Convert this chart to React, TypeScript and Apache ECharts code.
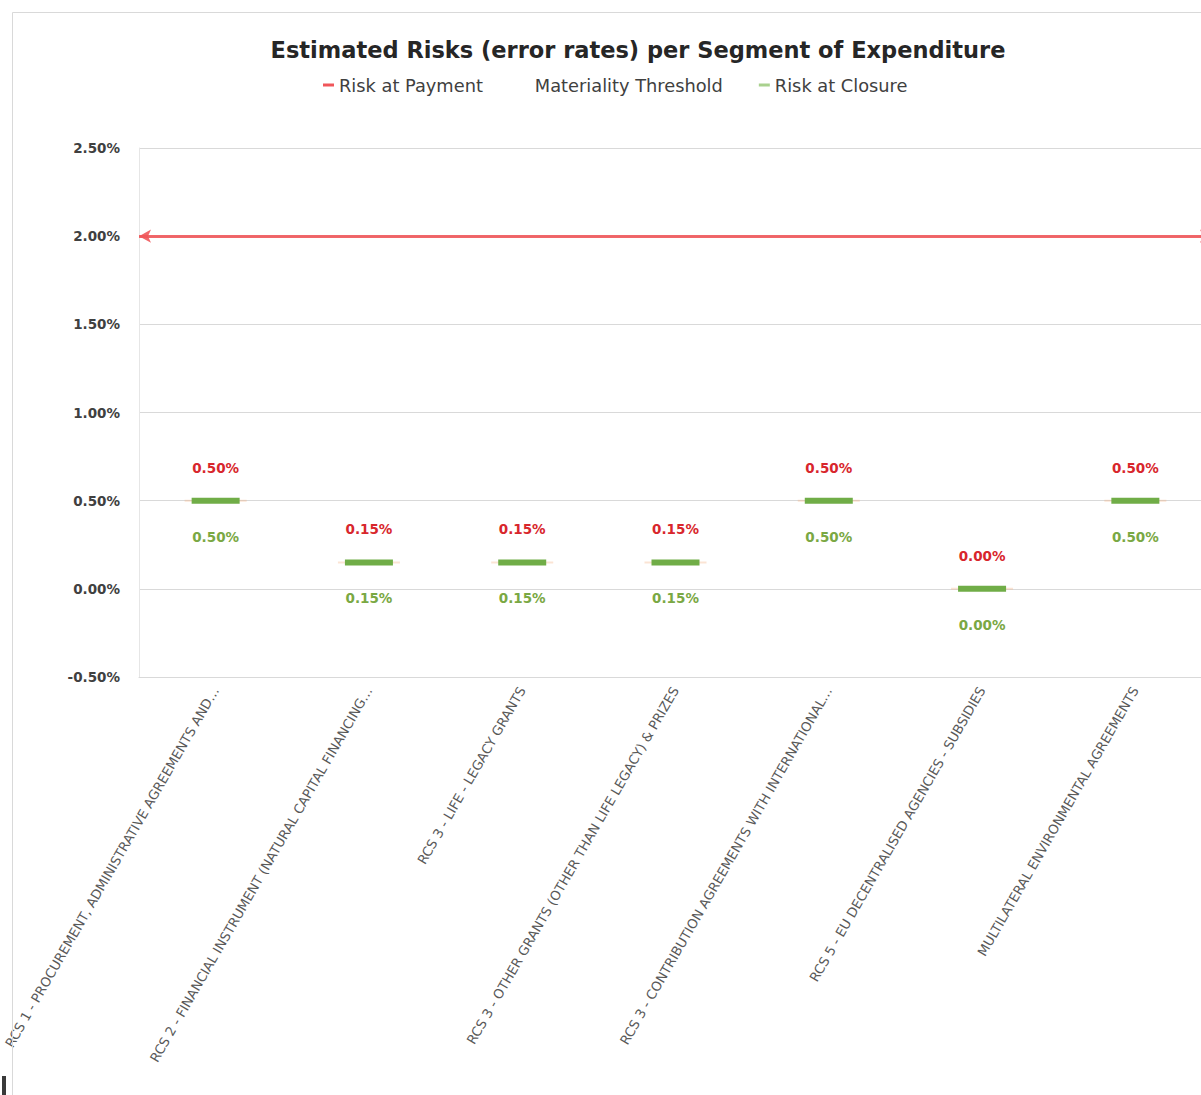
import React, { useEffect, useRef } from "react";
import * as echarts from "echarts";

const categories = [
  "RCS 1 - PROCUREMENT, ADMINISTRATIVE AGREEMENTS AND…",
  "RCS 2 - FINANCIAL INSTRUMENT (NATURAL CAPITAL FINANCING…",
  "RCS 3 - LIFE - LEGACY GRANTS",
  "RCS 3 - OTHER GRANTS (OTHER THAN LIFE LEGACY) & PRIZES",
  "RCS 3 - CONTRIBUTION AGREEMENTS WITH INTERNATIONAL…",
  "RCS 5 - EU DECENTRALISED AGENCIES - SUBSIDIES",
  "MULTILATERAL ENVIRONMENTAL AGREEMENTS",
];
const riskAtPayment = [0.5, 0.15, 0.15, 0.15, 0.5, 0.0, 0.5];
const riskAtClosure = [0.5, 0.15, 0.15, 0.15, 0.5, 0.0, 0.5];
const materialityThreshold = 2.0;
const yTicks = { min: -0.5, max: 2.5, interval: 0.5 };

const FONT = "'DejaVu Sans', 'Open Sans', sans-serif";
const RED = "#d8262c";
const GREEN_LABEL = "#7aa843";
const GREEN = "#70ad47";

export default function App() {
  const ref = useRef<HTMLDivElement>(null);
  useEffect(() => {
    if (!ref.current) return;
    const chart = echarts.init(ref.current, null, { renderer: "svg" });
    const pct = (v: number) => v.toFixed(2) + "%";
    chart.setOption({
      animation: false,
      backgroundColor: "#ffffff",
      title: {
        text: "Estimated Risks (error rates) per Segment of Expenditure",
        left: 633,
        textAlign: "center",
        top: 33,
        textStyle: { fontFamily: FONT, fontSize: 22.5, fontWeight: "bold", color: "#262626" },
      },
      legend: {
        top: 71,
        left: 318,
        itemGap: 36,
        itemWidth: 11,
        itemHeight: 3,
        textStyle: { fontFamily: FONT, fontSize: 17.8, color: "#404040" },
        data: [
          { name: "Risk at Payment", icon: "rect", itemStyle: { color: "#f0565a" } },
          { name: "Materiality Threshold", icon: "rect", itemStyle: { opacity: 0 } },
          { name: "Risk at Closure", icon: "rect", itemStyle: { color: "#a9d18e" } },
        ],
      },
      grid: { left: 139, top: 148, bottom: 418, right: 0, containLabel: false, outerBoundsMode: "none" },
      xAxis: {
        type: "category",
        data: categories,
        boundaryGap: true,
        axisLine: { show: true, onZero: false, lineStyle: { color: "#d9d9d9" } },
        axisTick: { show: false },
        axisLabel: {
          interval: 0,
          rotate: 60,
          margin: 11,
          fontFamily: FONT,
          fontSize: 13.2,
          color: "#595959",
        },
      },
      yAxis: {
        type: "value",
        min: yTicks.min,
        max: yTicks.max,
        interval: yTicks.interval,
        axisLine: { show: true, lineStyle: { color: "#e6e6e6" } },
        axisTick: { show: false },
        splitLine: { lineStyle: { color: "#d9d9d9", width: 1 } },
        axisLabel: {
          formatter: pct,
          margin: 19,
          fontFamily: FONT,
          fontSize: 13.5,
          fontWeight: "bold",
          color: "#404040",
        },
      },
      series: [
        {
          name: "Risk at Payment",
          type: "line",
          data: riskAtPayment,
          color: "#f0565a",
          lineStyle: { opacity: 0 },
          symbol: "rect",
          symbolSize: [62, 2],
          itemStyle: { color: "rgba(244,177,131,0.35)" },
          label: {
            show: true,
            position: "top",
            distance: 25,
            formatter: (p: any) => pct(p.value),
            fontFamily: FONT,
            fontSize: 13.5,
            fontWeight: "bold",
            color: RED,
          },
          z: 2,
        },
        {
          name: "Materiality Threshold",
          type: "line",
          data: [],
          color: "#f0565a",
          markLine: {
            silent: true,
            symbol: ["arrow", "arrow"],
            symbolSize: [10, 12],
            label: { show: false },
            lineStyle: { color: "#f0565a", width: 3, type: "solid", opacity: 0.9 },
            data: [{ yAxis: materialityThreshold }],
          },
        },
        {
          name: "Risk at Closure",
          type: "line",
          data: riskAtClosure,
          color: GREEN,
          lineStyle: { opacity: 0 },
          symbol: "rect",
          symbolSize: [48, 6],
          itemStyle: { color: GREEN },
          label: {
            show: true,
            position: "bottom",
            distance: 26,
            formatter: (p: any) => pct(p.value),
            fontFamily: FONT,
            fontSize: 13.5,
            fontWeight: "bold",
            color: GREEN_LABEL,
          },
          z: 3,
        },
      ],
      graphic: [
        {
          type: "rect",
          shape: { x: 12.5, y: 12.5, width: 1220, height: 1120 },
          style: { fill: "none", stroke: "#d9d9d9", lineWidth: 1 },
          silent: true,
          z: 101,
        },
        {
          type: "rect",
          shape: { x: 2, y: 1076, width: 4, height: 19 },
          style: { fill: "#3a3a3a" },
          silent: true,
          z: 102,
        },
      ],
    });
    return () => chart.dispose();
  }, []);
  return (
    <div
      style={{
        position: "fixed",
        left: 0,
        top: 0,
        width: 1201,
        height: 1095,
        overflow: "hidden",
        background: "#fff",
      }}
    >
      <div ref={ref} style={{ width: 1212, height: 1095 }} />
    </div>
  );
}
